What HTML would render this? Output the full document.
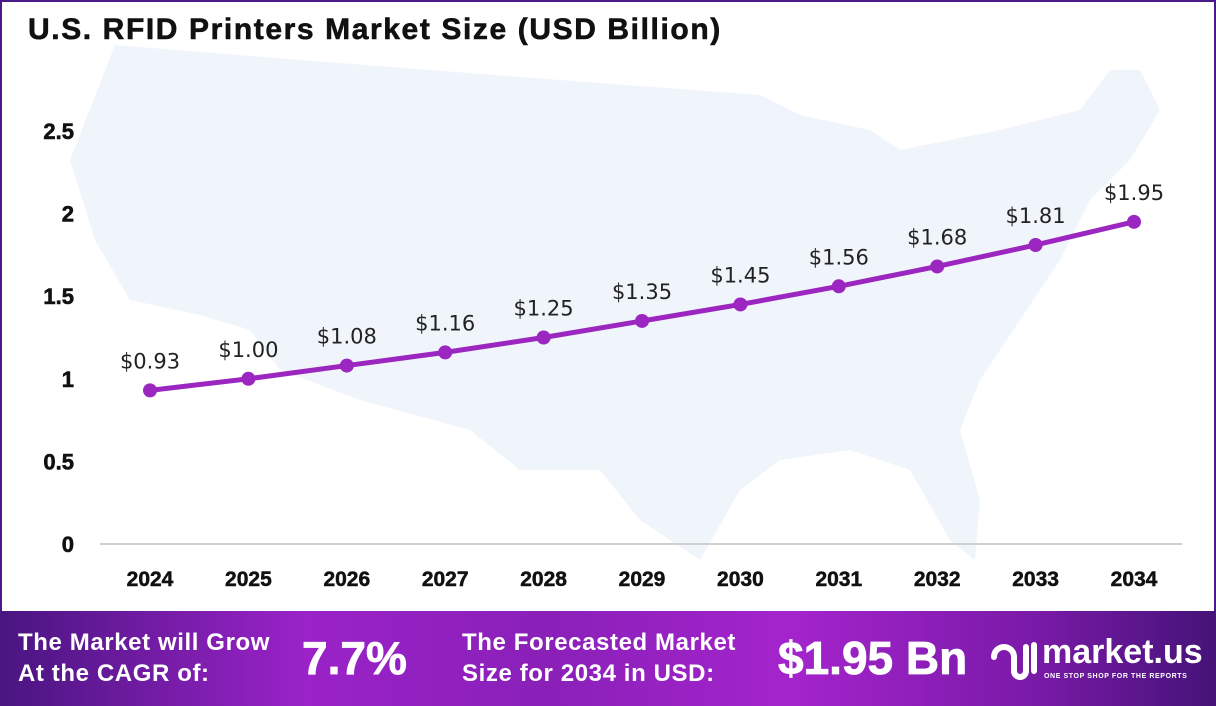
<!DOCTYPE html>
<html><head><meta charset="utf-8"><style>
body{margin:0;width:1216px;height:706px;overflow:hidden;background:#fff;font-family:"Liberation Sans",sans-serif}
#frame{position:absolute;left:0;top:0;width:1212px;height:611px;border:2px solid #4a1a8a;border-bottom:none;background:#fff}
#title{position:absolute;left:28px;top:13px;font-size:30px;font-weight:bold;color:#111;letter-spacing:1.6px;-webkit-text-stroke:0.6px #111}
#banner{position:absolute;left:0;top:611px;width:1216px;height:95px;background:linear-gradient(90deg,#4a1580 0%,#9a22c8 25%,#8a20b8 45%,#a424cc 65%,#7a1aa8 85%,#451378 100%);color:#fff;font-weight:bold}
.bt{position:absolute;font-size:24px;line-height:31px;letter-spacing:0.6px}
.big{position:absolute;font-size:46px;-webkit-text-stroke:0.8px #fff}
</style></head><body>
<div id="frame"></div>
<div id="title">U.S. RFID Printers Market Size (USD Billion)</div>
<svg id="chart" width="1216" height="611" style="position:absolute;left:0;top:0">
<path fill="#f0f4fb" d="M115,45 L300,60 L560,80 L760,95 L800,115 L870,130 L900,150 L1000,130 L1080,110 L1110,70 L1140,70 L1160,110 L1130,160 L1090,200 L1060,260 L1020,320 L980,380 L960,430 L980,500 L975,560 L950,540 L910,470 L850,450 L780,460 L740,490 L700,560 L640,520 L600,470 L520,470 L470,430 L360,400 L280,370 L250,330 L200,315 L130,300 L95,240 L70,160 Z"/>
<g id="axes"></g><g id="plot"></g>
</svg>
<div id="banner">
<div class="bt" style="left:18px;top:16px">The Market will Grow<br>At the CAGR of:</div>
<div class="big" style="left:302px;top:20px">7.7%</div>
<div class="bt" style="left:462px;top:16px">The Forecasted Market<br>Size for 2034 in USD:</div>
<div class="big" style="left:778px;top:20px">$1.95 Bn</div>
<svg style="position:absolute;left:990px;top:26px" width="48" height="48"><path d="M4,20 a10,10 0 0 1 20,0 v14 a6,6 0 0 0 12,0 V10 M44,8 v26" fill="none" stroke="#fff" stroke-width="6" stroke-linecap="round"/></svg>
<div style="position:absolute;left:1042px;top:22px;font-size:34px">market.us</div>
<div style="position:absolute;left:1044px;top:62px;font-size:7px;letter-spacing:0.6px">ONE STOP SHOP FOR THE REPORTS</div>
</div>
<script>
const years=["2024","2025","2026","2027","2028","2029","2030","2031","2032","2033","2034"];
const values=[0.93,1.00,1.08,1.16,1.25,1.35,1.45,1.56,1.68,1.81,1.95];
const labels=["$0.93","$1.00","$1.08","$1.16","$1.25","$1.35","$1.45","$1.56","$1.68","$1.81","$1.95"];
const yTicks=[0,0.5,1,1.5,2,2.5];
const yTickLabels=["0","0.5","1","1.5","2","2.5"];
const NS="http://www.w3.org/2000/svg";
const x=i=>150+i*98.4;
const y=v=>544-v*165.2;
const ax=document.getElementById('axes'),pl=document.getElementById('plot');
function mk(p,t,a){const e=document.createElementNS(NS,t);for(const k in a)e.setAttribute(k,a[k]);p.appendChild(e);return e;}
const base=mk(ax,'line',{x1:100,x2:1182,y1:544,y2:544,stroke:'#d0d0d0','stroke-width':2});


yTicks.forEach((t,i)=>{const e=mk(ax,'text',{x:74,y:y(t)+8,'text-anchor':'end','font-size':22,'font-weight':'bold',fill:'#111',stroke:'#111','stroke-width':0.6});e.textContent=yTickLabels[i];

});
years.forEach((yr,i)=>{const e=mk(ax,'text',{x:x(i),y:586,'text-anchor':'middle','font-size':21,'font-weight':'bold',fill:'#111',stroke:'#111','stroke-width':0.5});e.textContent=yr;

});
const line=mk(pl,'polyline',{points:values.map((v,i)=>x(i)+','+y(v)).join(' '),fill:'none',stroke:'#9b27c0','stroke-width':5,'stroke-linejoin':'round'});


values.forEach((v,i)=>{const c=mk(pl,'circle',{cx:x(i),cy:y(v),r:7,fill:'#9b27c0'});


const t=mk(pl,'text',{x:x(i),y:y(v)-22,'text-anchor':'middle','font-size':21,fill:'#222','font-family':'DejaVu Sans, sans-serif'});t.textContent=labels[i];

});
</script>
</body></html>
